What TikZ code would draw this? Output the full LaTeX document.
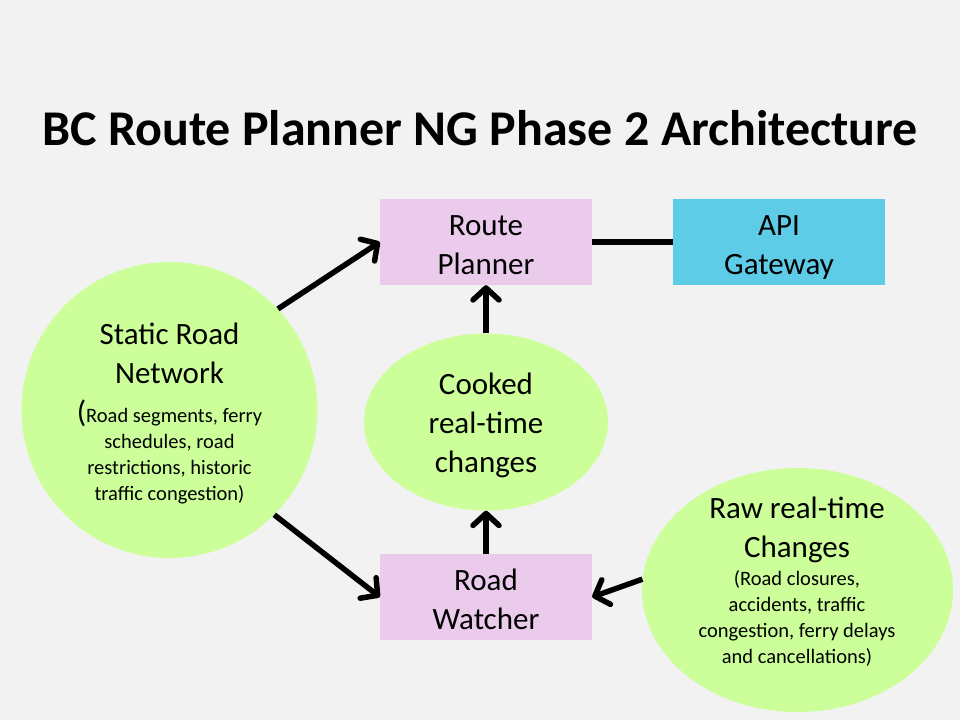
\documentclass[tikz,border=0pt]{standalone}
\usepackage{fontspec}
\setmainfont{Carlito}
\usetikzlibrary{arrows.meta,shapes.geometric}
\definecolor{slidegray}{HTML}{F2F2F2}
\definecolor{boxpink}{HTML}{EBCBEB}
\definecolor{boxblue}{HTML}{5ECBE7}
\definecolor{blobgreen}{HTML}{CCFF99}
\newcommand\bigfont{\fontsize{31}{39}\selectfont}
\newcommand\smallfont{\fontsize{20.5}{26}\selectfont}
\newcommand\titlefont{\fontsize{50}{56}\selectfont\bfseries}
\begin{document}
\begin{tikzpicture}
        [x=1pt,y=-1pt,
        boxdecorate/.style={shape=rectangle,minimum width=212pt,minimum height=86pt,inner sep=0pt,
          text height=65pt,text depth=0pt,font=\bigfont,align=center},%
        blobdecorate/.style={fill=blobgreen,inner sep=0pt},%
        labeldecorate/.style={font=\bigfont,align=center,inner sep=0pt},%
        notedecorate/.style={font=\smallfont,align=center,inner sep=0pt},%
        arrowdecorate/.style={-{Straight Barb[round,length=12pt,width=26pt]},line width=5.5pt}]
        \fill[slidegray] (0,0) rectangle (960,720);
        \useasboundingbox (0,0) rectangle (960,720);
        %% title
        \node (title) [anchor=base,font=\titlefont] at (480,145) {BC Route Planner NG Phase 2 Architecture};
        %% boxes
        \foreach \nodename/\x/\y/\colour/\text in { planner/486/242/boxpink/{Route\\Planner},
          api/779/242/boxblue/{API\\Gateway}, watcher/486/597/boxpink/{Road\\Watcher}}
        {
          \node (\nodename) at (\x,\y) [boxdecorate,fill=\colour] {\text};
        }
        %% blobs (the base of a text is its last line)
        \node (static) at (169.5,410) [blobdecorate,shape=circle,minimum size=296pt] {};
        \node (cooked) at (486,422) [blobdecorate,shape=ellipse,minimum width=244pt,minimum height=177pt] {};
        \node (raw) at (797.5,590) [blobdecorate,shape=ellipse,minimum width=311pt,minimum height=244pt] {};
        \node (statictext) [labeldecorate,anchor=base] at (169.5,383) {Static Road\\Network};
        \node (staticnote) [notedecorate,anchor=base] at (169.5,500) {{\bigfont(}Road segments, ferry\\schedules, road\\restrictions, historic\\traffic congestion)};
        \node (cookedtext) [labeldecorate,anchor=base] at (486,472) {Cooked\\real-time\\changes};
        \node (rawtext) [labeldecorate,anchor=base] at (797,557) {Raw real-time\\Changes};
        \node (rawnote) [notedecorate,anchor=base] at (797,663) {(Road closures,\\accidents, traffic\\congestion, ferry delays\\and cancellations)};
        %% edges or lines
        \draw[line width=5.5pt] (planner) -- (api);
        \path
        \foreach \startnode/\endnode in {static.43/planner.west, static.-45/watcher.west,
          cooked.north/planner.south, watcher.north/cooked.south, raw.176/watcher.east}
        {
          (\startnode) edge[arrowdecorate] (\endnode)
        };
      \end{tikzpicture}
\end{document}
